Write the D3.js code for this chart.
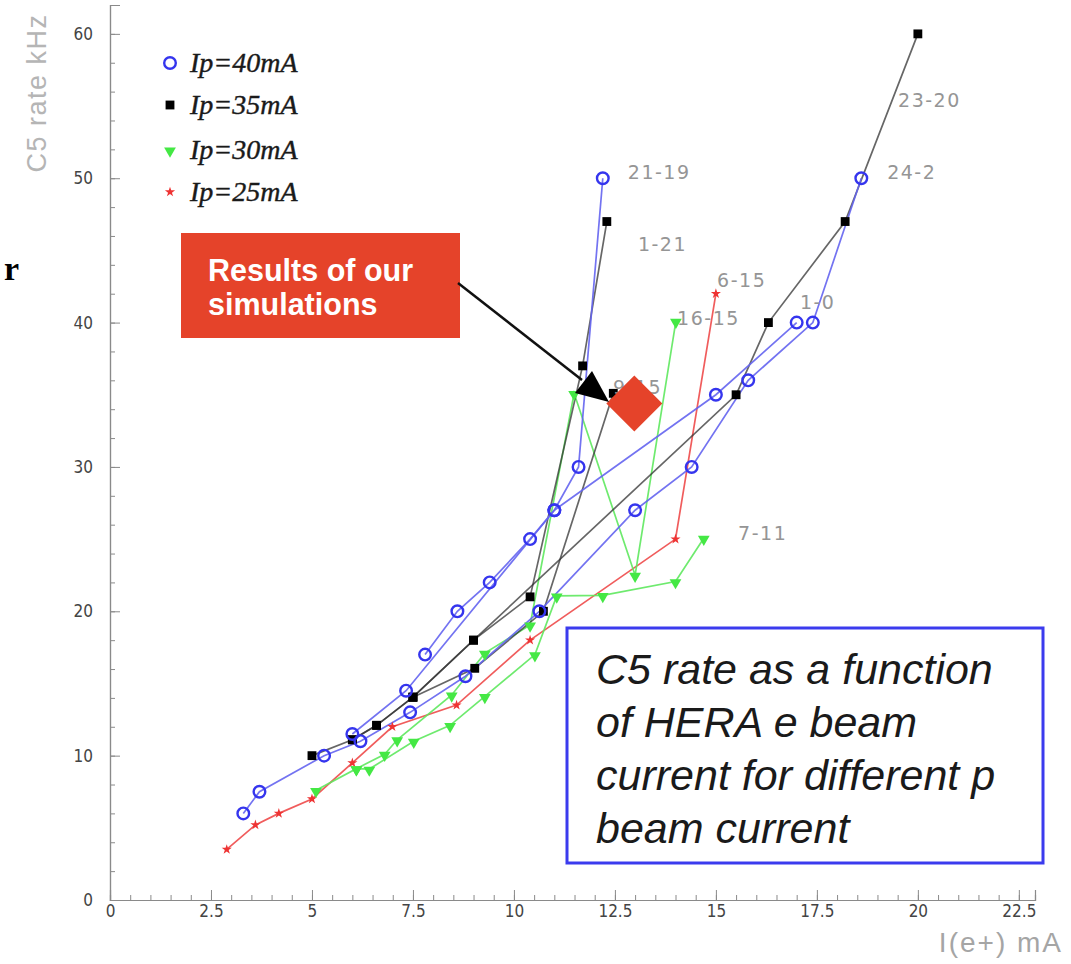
<!DOCTYPE html>
<html>
<head>
<meta charset="utf-8">
<script src="https://cdn.jsdelivr.net/npm/d3@7"></script>
<style>
  html, body { margin: 0; padding: 0; background: #fff; }
  svg { display: block; }
</style>
</head>
<body>
<svg id="chart" width="1071" height="964"></svg>
<script>
// ---------------- DATA ----------------
// Ip = 40 mA (blue open circles), three fills
const ip40_fill_24_2 = [[3.3,6],[3.7,7.5],[5.3,10],[6.2,11],[7.43,13],[8.8,15.5],[10.63,20],[13.0,27],[14.4,30],[15.8,36],[17.4,40],[18.6,50]];
const ip40_fill_21_19 = [[6.0,11.5],[7.33,14.5],[11.0,27],[11.6,30],[12.2,50]];
const ip40_fill_1_0 = [[7.8,17],[8.6,20],[9.4,22],[10.4,25],[11.0,27],[15.0,35],[17.0,40]];

// Ip = 35 mA (black squares)
const ip35_fill_23_20 = [[5.0,10],[6.0,11.1],[6.6,12.1],[7.5,14.05],[9.0,18],[15.5,35],[16.3,40],[18.2,47],[20.0,60]];
const ip35_fill_1_21 = [[6.0,11.1],[6.6,12.1],[7.5,14.05],[9.0,18],[10.4,21],[11.7,37],[12.3,47]];
const ip35_fill_9_15 = [[7.5,14.05],[9.03,16.05],[10.73,20],[12.46,35.1]];

// Ip = 30 mA (green down triangles)
const ip30_fill_7_11 = [[5.1,7.6],[6.1,9.1],[6.42,9.07],[7.52,11.0],[8.42,12.1],[9.28,14.1],[10.52,17.0],[11.06,21.07],[12.2,21.1],[14.0,22.06],[14.7,25.06]];
const ip30_fill_16_15 = [[6.1,9.1],[6.8,10.1],[7.11,11.1],[8.46,14.2],[9.28,17.1],[10.4,19.05],[11.49,35.1],[13.0,22.5],[14.01,40.1]];

// Ip = 25 mA (red stars)
const ip25_fill_6_15 = [[2.89,3.5],[3.6,5.2],[4.18,6.0],[5.0,7.0],[6.0,9.5],[6.99,12.0],[8.58,13.5],[10.4,18.0],[14.0,25.0],[15.0,42.0]];

// Simulation result (red diamond)
const simulationResult = [12.98, 34.4];

// Fill labels (text + anchor in data units)
const fillLabelText = ["21-19","24-2","23-20","1-21","6-15","16-15","1-0","7-11","9-15"];
const fillLabelX    = [12.82, 19.24, 19.51, 13.07, 15.03, 14.04, 17.08, 15.55, 12.45];
const fillLabelY    = [50.4, 50.4, 55.4, 45.45, 42.9, 40.3, 41.4, 25.4, 35.5];

// Legend
const legendLabels = ["Ip=40mA","Ip=35mA","Ip=30mA","Ip=25mA"];

// Axes
const xTickValues = [0,2.5,5,7.5,10,12.5,15,17.5,20,22.5];
const xTickLabels = ["0","2.5","5","7.5","10","12.5","15","17.5","20","22.5"];
const yTickValues = [0,10,20,30,40,50,60];
const yTickLabels = ["0","10","20","30","40","50","60"];

const xTitle = "I(e+) mA";
const yTitle = "C5 rate kHz";
const rLabel = "r";
const calloutLines = ["Results of our","simulations"];
const captionLines = ["C5 rate as a function","of HERA e beam","current for different p","beam current"];

// ---------------- DRAWING ----------------
const svg = d3.select("#chart");
const x = d3.scaleLinear().domain([0, 22.9]).range([110, 1035]);
const y = d3.scaleLinear().domain([0, 62]).range([900, 5]);

const axisColor = "#8a8a8a";
const tickFont = "'Liberation Sans Narrow','DejaVu Sans Condensed',sans-serif";

// minor ticks
const xMinor = d3.range(0, 22.91, 0.5);
const yMinor = d3.range(0, 62.01, 2);

const gxMinor = svg.append("g").attr("transform", "translate(0,900)")
  .call(d3.axisBottom(x).tickValues(xMinor).tickSize(-5).tickFormat(""));
const gyMinor = svg.append("g").attr("transform", "translate(110,0)")
  .call(d3.axisLeft(y).tickValues(yMinor).tickSize(-5).tickFormat(""));

const gx = svg.append("g").attr("transform", "translate(0,900)")
  .call(d3.axisBottom(x).tickValues(xTickValues).tickSize(-10).tickPadding(5)
    .tickFormat((d, i) => xTickLabels[i]));
const gy = svg.append("g").attr("transform", "translate(110,0)")
  .call(d3.axisLeft(y).tickValues(yTickValues).tickSize(-10).tickPadding(17)
    .tickFormat((d, i) => yTickLabels[i]));

[gxMinor, gyMinor, gx, gy].forEach(g => {
  g.select(".domain").attr("stroke", axisColor).attr("stroke-width", 1.2);
  g.selectAll(".tick line").attr("stroke", axisColor).attr("stroke-width", 1);
  g.selectAll(".tick text").attr("fill", "#444").style("font-family", tickFont).style("font-size", "17px");
});

// axis titles
svg.append("text")
  .attr("transform", "translate(46,93) rotate(-90)")
  .attr("text-anchor", "middle")
  .style("font-family", "'Liberation Sans','Helvetica',sans-serif")
  .style("font-size", "27px").style("letter-spacing", "1.5px").attr("fill", "#b5b5b5")
  .text(yTitle);
svg.append("text")
  .attr("x", 1063).attr("y", 952)
  .attr("text-anchor", "end")
  .style("font-family", "'Liberation Sans','Helvetica',sans-serif")
  .style("font-size", "28px").style("letter-spacing", "2px").attr("fill", "#a5a5a5")
  .text(xTitle);
svg.append("text")
  .attr("x", 4).attr("y", 280)
  .style("font-family", "'Liberation Serif','DejaVu Serif',serif")
  .style("font-weight", "bold")
  .style("font-size", "34px").attr("fill", "#000")
  .text(rLabel);

// series definitions
const line = d3.line().x(d => x(d[0])).y(d => y(d[1]));

const series = [
  { fills: [ip25_fill_6_15], lineColor: "#ee4a4a", marker: "star", markColor: "#ee3333" },
  { fills: [ip30_fill_7_11, ip30_fill_16_15], lineColor: "#5ee85e", marker: "tri", markColor: "#44e844" },
  { fills: [ip35_fill_23_20, ip35_fill_1_21, ip35_fill_9_15], lineColor: "#333", marker: "square", markColor: "#000" },
  { fills: [ip40_fill_24_2, ip40_fill_21_19, ip40_fill_1_0], lineColor: "#6464f0", marker: "circle", markColor: "#3535ee" }
];

// lines
series.forEach(s => {
  s.fills.forEach(f => {
    svg.append("path").datum(f)
      .attr("d", line)
      .attr("fill", "none")
      .attr("stroke", s.lineColor)
      .attr("stroke-width", 1.7)
      .attr("stroke-opacity", s.marker === "square" ? 0.75 : 0.9);
  });
});

function drawMarker(g, type, color, cx, cy) {
  if (type === "circle") {
    g.append("circle").attr("cx", cx).attr("cy", cy).attr("r", 5.8)
      .attr("fill", "none").attr("stroke", color).attr("stroke-width", 2.4);
  } else if (type === "square") {
    g.append("path").attr("d", d3.symbol(d3.symbolSquare, 78)())
      .attr("transform", `translate(${cx},${cy})`).attr("fill", color);
  } else if (type === "tri") {
    g.append("path").attr("d", d3.symbol(d3.symbolTriangle, 60)())
      .attr("transform", `translate(${cx},${cy + 1}) rotate(180)`).attr("fill", color);
  } else if (type === "star") {
    g.append("path").attr("d", d3.symbol(d3.symbolStar, 32)())
      .attr("transform", `translate(${cx},${cy})`).attr("fill", color);
  }
}

// markers
series.forEach(s => {
  const g = svg.append("g");
  s.fills.forEach(f => f.forEach(d => drawMarker(g, s.marker, s.markColor, x(d[0]), y(d[1]))));
});

// fill labels
svg.append("g").selectAll("text").data(fillLabelText).join("text")
  .attr("x", (d, i) => x(fillLabelX[i]))
  .attr("y", (d, i) => y(fillLabelY[i]))
  .attr("dy", "0.35em")
  .style("font-family", "'DejaVu Sans','Liberation Sans',sans-serif")
  .style("font-size", "19px")
  .style("letter-spacing", "1.5px")
  .attr("fill", "#959595")
  .text(d => d);

// legend
const legendMarkers = ["circle", "square", "tri", "star"];
const legendColors = ["#3535ee", "#000", "#44e844", "#ee3333"];
const legendY = [63, 105, 150, 192];
legendLabels.forEach((t, i) => {
  const g = svg.append("g");
  drawMarker(g, legendMarkers[i], legendColors[i], 170, legendY[i]);
  g.append("text").attr("x", 190).attr("y", legendY[i] + 9)
    .style("font-family", "'Liberation Serif','Times New Roman',serif")
    .style("font-style", "italic").style("font-size", "28px")
    .attr("fill", "#1a1a1a").attr("stroke", "#1a1a1a").attr("stroke-width", 0.4)
    .text(t);
});

// simulation diamond
const dx = x(simulationResult[0]), dy = y(simulationResult[1]), h = 28;
svg.append("path")
  .attr("d", `M${dx},${dy - h}L${dx + h},${dy}L${dx},${dy + h}L${dx - h},${dy}Z`)
  .attr("fill", "#e5432a");

// callout box
svg.append("rect").attr("x", 181).attr("y", 233).attr("width", 279).attr("height", 105)
  .attr("fill", "#e5432a");
calloutLines.forEach((t, i) => {
  svg.append("text").attr("x", 208).attr("y", 281 + i * 34)
    .style("font-family", "'Liberation Sans','Arial',sans-serif")
    .style("font-weight", "bold").style("font-size", "30.5px")
    .attr("fill", "#fff").text(t);
});

// arrow
svg.append("line")
  .attr("x1", 458).attr("y1", 283)
  .attr("x2", 582).attr("y2", 380)
  .attr("stroke", "#111").attr("stroke-width", 2.5);
svg.append("path")
  .attr("d", "M609,402 L575,393 L592,371 Z")
  .attr("fill", "#000");

// caption box
svg.append("rect").attr("x", 567).attr("y", 628).attr("width", 476).attr("height", 235)
  .attr("fill", "#fff").attr("stroke", "#3b3bee").attr("stroke-width", 3);
captionLines.forEach((t, i) => {
  svg.append("text").attr("x", 596).attr("y", 684 + i * 53)
    .style("font-family", "'Liberation Sans','Arial',sans-serif")
    .style("font-style", "italic").style("font-size", "43px")
    .attr("fill", "#1a1a1a").text(t);
});
</script>
</body>
</html>
